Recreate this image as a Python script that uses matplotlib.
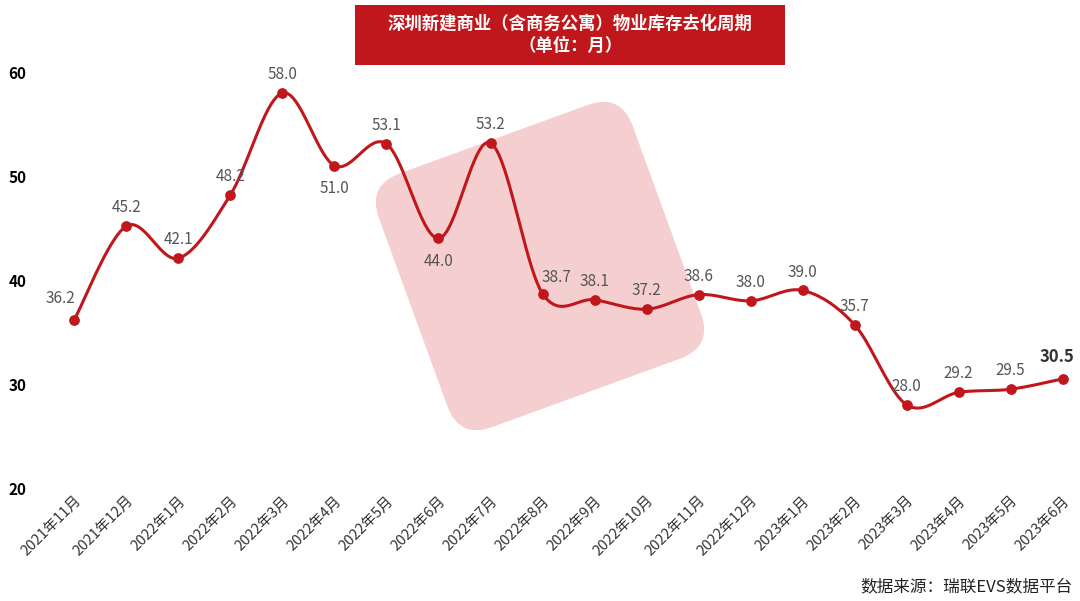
import matplotlib.pyplot as plt
import numpy as np
from matplotlib.patches import FancyBboxPatch
import matplotlib.transforms as mtransforms

plt.rcParams['font.family'] = ['Noto Sans CJK SC', 'DejaVu Sans']

months = ['2021年11月', '2021年12月', '2022年1月', '2022年2月', '2022年3月', '2022年4月',
          '2022年5月', '2022年6月', '2022年7月', '2022年8月', '2022年9月', '2022年10月',
          '2022年11月', '2022年12月', '2023年1月', '2023年2月', '2023年3月', '2023年4月',
          '2023年5月', '2023年6月']
values = [36.2, 45.2, 42.1, 48.2, 58.0, 51.0, 53.1, 44.0, 53.2, 38.7, 38.1, 37.2,
          38.6, 38.0, 39.0, 35.7, 28.0, 29.2, 29.5, 30.5]
below = [5, 7]

red = '#c0171c'


def catmull(x, y, n=20):
    xs, ys = [], []
    p = np.column_stack([x, y])
    p = np.vstack([p[0], p, p[-1]])
    for i in range(1, len(p) - 2):
        p0, p1, p2, p3 = p[i - 1], p[i], p[i + 1], p[i + 2]
        t = np.linspace(0, 1, n)[:, None]
        seg = 0.5 * ((2 * p1) + (-p0 + p2) * t + (2 * p0 - 5 * p1 + 4 * p2 - p3) * t ** 2
                     + (-p0 + 3 * p1 - 3 * p2 + p3) * t ** 3)
        xs.extend(seg[:, 0]); ys.extend(seg[:, 1])
    return xs, ys


fig = plt.figure(figsize=(10.8, 6.01), dpi=100)
ax = fig.add_axes([0.04, 0.188, 0.955, 0.692])
x = np.arange(len(values))

# watermark (in inches so it stays square)
wm = FancyBboxPatch((4.05, 2.0), 2.7, 2.7, boxstyle='round,pad=0,rounding_size=0.35',
                    facecolor='#f5cfd0', edgecolor='none', zorder=0)
rot = mtransforms.Affine2D().rotate_deg_around(5.4, 3.35, 20)
wm.set_transform(rot + fig.dpi_scale_trans)
ax.add_patch(wm)

sx, sy = catmull(x, values)
ax.plot(sx, sy, color=red, lw=2.2, zorder=3)
ax.scatter(x, values, color=red, s=45, zorder=4)

for i, v in enumerate(values):
    if i == len(values) - 1:
        ax.annotate(f'{v:.1f}', (i, v), xytext=(-4, 12), textcoords='offset points',
                    ha='center', fontsize=12, fontweight='bold', color='#333333')
    elif i in below:
        ax.annotate(f'{v:.1f}', (i, v), xytext=(0, -20), textcoords='offset points',
                    ha='center', fontsize=11, color='#555555')
    elif i == 0:
        ax.annotate(f'{v:.1f}', (i, v), xytext=(-10, 12), textcoords='offset points',
                    ha='center', fontsize=11, color='#555555')
    elif i == 9:
        ax.annotate(f'{v:.1f}', (i, v), xytext=(10, 8), textcoords='offset points',
                    ha='center', fontsize=11, color='#555555')
    else:
        ax.annotate(f'{v:.1f}', (i, v), xytext=(0, 10), textcoords='offset points',
                    ha='center', fontsize=11, color='#555555')

ax.set_ylim(20, 60)
ax.set_xlim(-0.6, 19.23)
ax.set_yticks([20, 30, 40, 50, 60])
ax.tick_params(axis='y', length=0, labelsize=11, pad=12)
for t in ax.get_yticklabels():
    t.set_fontweight('bold')
ax.set_xticks(x)
ax.set_xticklabels(months, rotation=45, ha='right', rotation_mode='anchor', fontsize=10.5, color='#333333')
ax.tick_params(axis='x', length=0, pad=4)
for s in ax.spines.values():
    s.set_visible(False)

fig.patches.append(FancyBboxPatch((0.329, 0.892), 0.398, 0.1, boxstyle='square,pad=0',
                                  transform=fig.transFigure, facecolor=red, edgecolor='none'))
fig.text(0.528, 0.942, '深圳新建商业（含商务公寓）物业库存去化周期\n（单位：月）', ha='center', va='center',
         color='white', fontsize=12.5, fontweight='bold', linespacing=1.3)
fig.text(0.993, 0.008, '数据来源：瑞联EVS数据平台', ha='right', va='bottom', fontsize=12, color='#222222')

fig.savefig('out.png')
